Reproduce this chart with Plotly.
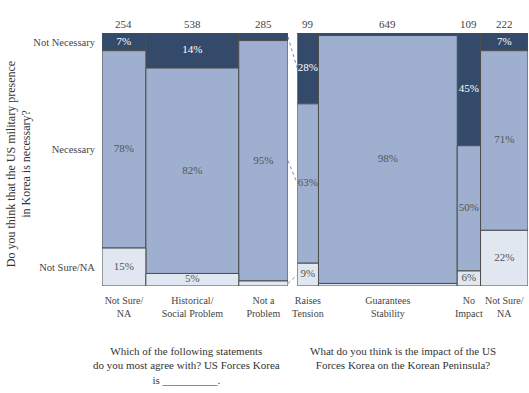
import plotly.graph_objects as go

# ---------------- data ----------------
responses = ["Not Necessary", "Necessary", "Not Sure/NA"]

left_cats = ["Not Sure/<br>NA", "Historical/<br>Social Problem", "Not a<br>Problem"]
left_n = [254, 538, 285]
left_not_necessary = [7, 14, 3]
left_necessary = [78, 82, 95]
left_not_sure = [15, 5, 2]

right_cats = ["Raises<br>Tension", "Guarantees<br>Stability", "No<br>Impact", "Not Sure/<br>NA"]
right_n = [99, 649, 109, 222]
right_not_necessary = [28, 1, 45, 7]
right_necessary = [63, 98, 50, 71]
right_not_sure = [9, 1, 6, 22]

left_title = "Which of the following statements<br>do you most agree with? US Forces Korea<br>is __________."
right_title = "What do you think is the impact of the US<br>Forces Korea on the Korean Peninsula?"
y_title = "Do you think that the US military presence<br>in Korea is necessary?"

# ---------------- style ----------------
FONT = "Liberation Serif"
colors = ["#344a6b", "#9eafcf", "#e1e7f1"]
text_colors = ["#ffffff", "#555555", "#555555"]
edge = "#4d4d4d"
W, H = 529, 393
ml, mt = 102, 33
mr = 1
mb = H - 286
pw = W - ml - mr
left_dom = [0, (288 - ml) / pw]
right_dom = [(297.3 - ml) / pw, 1]

fig = go.Figure()


def panel(ns, nn, nec, nsure, xa, ya):
    total = sum(ns)
    centers = []
    acc = 0
    for n in ns:
        centers.append(acc + n / 2)
        acc += n
    segs_all = []
    for i in range(len(ns)):
        s = nn[i] + nec[i] + nsure[i]
        a = nn[i] / s * 100
        b = nec[i] / s * 100
        c = nsure[i] / s * 100
        segs_all.append([(a, 100 - a), (b, c), (c, 0)])
    raw = [nn, nec, nsure]
    for k in range(3):
        fig.add_trace(go.Bar(
            x=centers, y=[segs_all[i][k][0] for i in range(len(ns))],
            base=[segs_all[i][k][1] for i in range(len(ns))],
            width=ns, marker=dict(color=colors[k], line=dict(color=edge, width=1)),
            xaxis=xa, yaxis=ya, showlegend=False, hoverinfo="skip"))
        tx, ty, tt = [], [], []
        for i in range(len(ns)):
            v, base = segs_all[i][k]
            if raw[k][i] >= 5:
                tx.append(centers[i])
                ty.append(base + v / 2)
                tt.append(f"{raw[k][i]}%")
        fig.add_trace(go.Scatter(
            x=tx, y=ty, text=tt, mode="text",
            textfont=dict(family=FONT, size=11, color=text_colors[k]),
            xaxis=xa, yaxis=ya, showlegend=False, hoverinfo="skip", cliponaxis=False))
    for i, n in enumerate(ns):
        fig.add_annotation(x=centers[i], y=1, xref=xa, yref="paper",
                           text=str(n), showarrow=False, yanchor="bottom", yshift=1,
                           font=dict(family=FONT, size=11, color="#444444"))
    return total, centers, segs_all


ltot, lcent, lsegs = panel(left_n, left_not_necessary, left_necessary,
                           left_not_sure, "x", "y")
rtot, rcent, rsegs = panel(right_n, right_not_necessary, right_necessary,
                           right_not_sure, "x2", "y2")

# dotted connectors between the adjoining bars of the two panels
for k in range(3):
    v0, b0 = lsegs[-1][k]
    v1, b1 = rsegs[0][k]
    fig.add_shape(type="line", xref="paper", yref="y",
                  x0=left_dom[1], x1=right_dom[0],
                  y0=b0 + v0 / 2, y1=b1 + v1 / 2,
                  line=dict(color="#6f8cc0", width=1, dash="dot"))

ytickvals = [lsegs[0][k][1] + lsegs[0][k][0] / 2 for k in range(3)]

xcommon = dict(showgrid=False, zeroline=False, showline=False, automargin=False,
               tickangle=0, ticks="outside", ticklen=5, tickcolor="rgba(0,0,0,0)",
               ticklabeloverflow="allow",
               tickfont=dict(family=FONT, size=10, color="#444444"))
fig.update_layout(
    width=W, height=H, margin=dict(l=ml, r=mr, t=mt, b=mb, autoexpand=False),
    plot_bgcolor="white", paper_bgcolor="white", barmode="overlay",
    xaxis=dict(domain=left_dom, range=[0, ltot], tickvals=lcent, ticktext=left_cats,
               anchor="y", **xcommon),
    xaxis2=dict(domain=right_dom, range=[0, rtot], tickvals=rcent, ticktext=right_cats,
                anchor="y2", **xcommon),
    yaxis=dict(range=[0, 100], tickvals=ytickvals, ticktext=responses,
               ticks="outside", ticklen=4, tickcolor="rgba(0,0,0,0)", anchor="x",
               showgrid=False, zeroline=False, showline=False, automargin=False,
               tickfont=dict(family=FONT, size=10.5, color="#444444")),
    yaxis2=dict(range=[0, 100], showticklabels=False, anchor="x2", automargin=False,
                showgrid=False, zeroline=False, showline=False),
)

fig.add_annotation(xref="paper", yref="paper", x=(186 - ml) / pw, xanchor="center",
                   y=0, yshift=-(343 - 286), yanchor="top", text=left_title,
                   showarrow=False, align="center",
                   font=dict(family=FONT, size=11, color="#333333"))
fig.add_annotation(xref="paper", yref="paper", x=(403 - ml) / pw, xanchor="center",
                   y=0, yshift=-(343 - 286), yanchor="top", text=right_title,
                   showarrow=False, align="center",
                   font=dict(family=FONT, size=11, color="#333333"))
fig.add_annotation(xref="paper", yref="paper", x=0, xshift=-(102 - 19), xanchor="center",
                   y=(286 - 164) / (286 - 32.7), yanchor="middle",
                   text=y_title, textangle=-90, showarrow=False, align="center",
                   font=dict(family=FONT, size=12, color="#333333"))

fig.write_html("out.html",
               config={"displayModeBar": False},
               post_script="document.body.style.margin='0';"
                           "document.body.style.overflow='hidden';")
